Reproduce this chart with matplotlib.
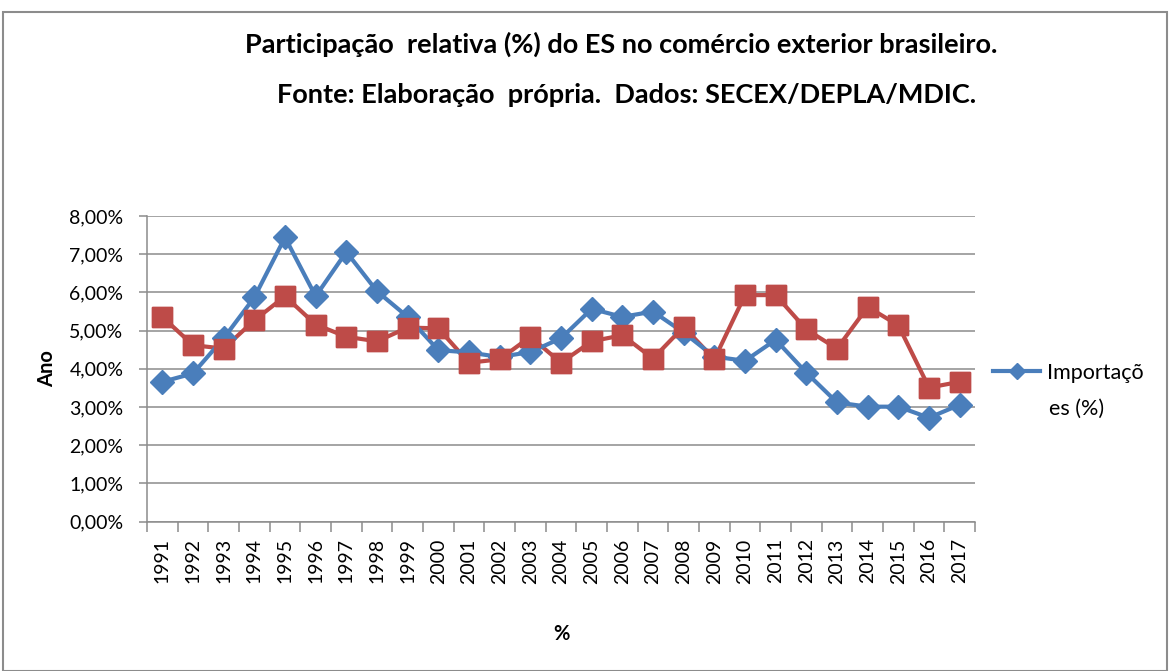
import matplotlib
matplotlib.use("Agg")
import matplotlib.pyplot as plt
from matplotlib.patches import Rectangle
from matplotlib.ticker import FuncFormatter, FixedLocator
import numpy as np

years = [str(y) for y in range(1991, 2018)]
importacoes = [3.66, 3.88, 4.80, 5.87, 7.44, 5.90, 7.06, 6.03, 5.36, 4.49,
               4.43, 4.31, 4.44, 4.80, 5.57, 5.36, 5.50, 4.95, 4.32, 4.21,
               4.76, 3.90, 3.12, 3.01, 3.01, 2.72, 3.06]
exportacoes = [5.36, 4.62, 4.53, 5.27, 5.90, 5.16, 4.84, 4.72, 5.08, 5.06,
               4.16, 4.25, 4.84, 4.16, 4.72, 4.88, 4.27, 5.10, 4.25, 5.93,
               5.93, 5.03, 4.53, 5.62, 5.14, 3.51, 3.66]
yticks = [0, 1, 2, 3, 4, 5, 6, 7, 8]

plt.rcParams['font.family'] = ['Lato', 'DejaVu Sans']

W, H = 1171, 671
fig = plt.figure(figsize=(W / 100, H / 100), dpi=100)
fig.patch.set_facecolor('white')

# outer border
fig.add_artist(Rectangle((3 / W, 0), (1167 - 3) / W, (H - 12) / H,
                         transform=fig.transFigure, fill=False,
                         edgecolor='#8c8c8c', linewidth=1.5))

x0, x1 = 147, 975
ytop, ybot = 216, 521.7
ax = fig.add_axes([x0 / W, (H - ybot) / H, (x1 - x0) / W, (ybot - ytop) / H])

x = np.arange(len(years))
ax.set_xlim(-0.5, len(years) - 0.5)
ax.set_ylim(0, 8)

ax.set_yticks(yticks)
ax.yaxis.set_major_formatter(FuncFormatter(lambda v, p: f"{v:.2f}%".replace('.', ',')))
ax.grid(axis='y', color='#8c8c8c', linewidth=1.1)
ax.set_axisbelow(True)

ax.set_xticks(x)
ax.set_xticklabels(years, rotation=90, fontsize=14)
ax.tick_params(axis='x', which='major', length=0, pad=12)
ax.xaxis.set_minor_locator(FixedLocator(np.arange(-0.5, len(years), 1)))
ax.tick_params(axis='x', which='minor', length=7, color='#8c8c8c', width=1.1)
ax.tick_params(axis='y', length=6, color='#8c8c8c', width=1.1, labelsize=14, pad=11)

for s in ['top', 'right']:
    ax.spines[s].set_visible(False)
for s in ['left', 'bottom']:
    ax.spines[s].set_color('#8c8c8c')
    ax.spines[s].set_linewidth(1.1)

ax.plot(x, exportacoes, color='#BE4B48', linewidth=3, marker='s',
        markersize=14, zorder=3)
line_imp, = ax.plot(x, importacoes, color='#4A7EBB', linewidth=3, marker='D',
                    markersize=12, zorder=4, label='Importaçõ')
ax.plot(x, exportacoes, color='#BE4B48', linewidth=3, marker='s',
        markersize=14, zorder=5, linestyle='none')

fs_leg = 15.5
leg = fig.legend(handles=[line_imp], loc='center left',
                 bbox_to_anchor=(993 / W, 1 - 373 / H), bbox_transform=fig.transFigure,
                 frameon=False, fontsize=fs_leg, borderpad=0, borderaxespad=0,
                 handlelength=2.2, handletextpad=0.3, markerscale=0.65)
fig.text(1049 / W, 1 - 409 / H, 'es (%)', ha='left', va='center', fontsize=fs_leg)

ax.set_ylabel('Ano', fontsize=14.5, fontweight='bold', labelpad=9)
ax.set_xlabel('%', fontsize=14.5, fontweight='bold', labelpad=29)

fig.text(621 / W, 1 - 44 / H, 'Participação  relativa (%) do ES no comércio exterior brasileiro.',
         ha='center', va='center', fontsize=19.5, fontweight='bold')
fig.text(627 / W, 1 - 95 / H, 'Fonte: Elaboração  própria.  Dados: SECEX/DEPLA/MDIC.',
         ha='center', va='center', fontsize=19.5, fontweight='bold')

fig.savefig('out.png', dpi=100, facecolor='white')
